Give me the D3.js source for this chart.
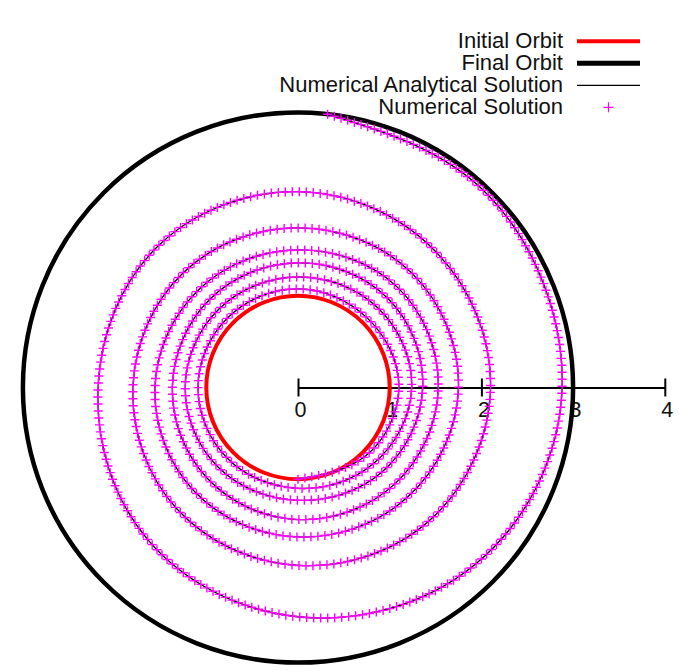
<!DOCTYPE html>
<html>
<head>
<meta charset="utf-8">
<script src="https://cdnjs.cloudflare.com/ajax/libs/d3/7.8.5/d3.min.js"></script>
<style>
body { margin: 0; background: #fff; }
text { font-family: "Liberation Sans", Arial, sans-serif; fill: #111; }
</style>
</head>
<body>
<script>
//Orbit radii (canonical units)
var initialOrbit = 1;
var finalOrbit = 3;

//Spiral: polar angle in degrees (ccw from +x) and radius
var spiralAngles = [-90, -45, 0, 45, 90, 135, 180, 225, 270, 315,
  360, 405, 450, 495, 540, 585, 630, 675,
  720, 765, 810, 855, 900, 945, 990, 1035,
  1080, 1125, 1170, 1215, 1260, 1305, 1350, 1395,
  1440, 1485, 1530, 1575, 1620, 1665, 1710, 1755,
  1800, 1845, 1890, 1935, 1980, 2025, 2070, 2115,
  2160, 2205, 2244];
var spiralRadii = [1.00, 1.05, 1.10, 1.07, 1.075, 1.08, 1.09, 1.09, 1.10, 1.17,
  1.24, 1.23, 1.205, 1.215, 1.23, 1.23, 1.23, 1.30,
  1.36, 1.38, 1.36, 1.36, 1.37, 1.40, 1.44, 1.49,
  1.53, 1.54, 1.50, 1.52, 1.56, 1.60, 1.63, 1.69,
  1.75, 1.76, 1.74, 1.77, 1.80, 1.87, 1.94, 2.04,
  2.10, 2.11, 2.135, 2.17, 2.18, 2.33, 2.50, 2.73,
  2.88, 2.95, 3.00];

//Radial axis ticks
var tickValues = [0, 1, 2, 3, 4];

//Legend entries
var legendLabels = ["Initial Orbit", "Final Orbit", "Numerical Analytical Solution", "Numerical Solution"];

var width = 679, height = 671;
var cx = 298, cy = 387.5;

var svg = d3.select("body").append("svg")
  .attr("width", width)
  .attr("height", height);

svg.append("rect")
  .attr("width", width)
  .attr("height", height)
  .attr("fill", "#fff");

var rScale = d3.scaleLinear().domain([0, 4]).range([0, 366.8]);

var spiral = spiralAngles.map(function (a, i) {
  return { angle: a * Math.PI / 180, r: spiralRadii[i] };
});

var plot = svg.append("g").attr("transform", "translate(" + cx + "," + cy + ")");

//Radial axis with crossing ticks
var axis = d3.axisBottom(rScale)
  .tickValues(tickValues)
  .tickFormat(d3.format("d"))
  .tickSize(9)
  .tickSizeOuter(0)
  .tickPadding(5);

var axisG = plot.append("g").call(axis);
axisG.select(".domain").attr("stroke", "#000").attr("stroke-width", 2);
axisG.selectAll(".tick line").attr("y1", -9).attr("stroke", "#000").attr("stroke-width", 2);
axisG.selectAll(".tick text")
  .attr("x", 2)
  .attr("font-size", "21.5px")
  .attr("font-family", "Liberation Sans, Arial, sans-serif")
  .attr("fill", "#111");

//Initial and final orbits
plot.append("circle")
  .attr("r", rScale(initialOrbit))
  .attr("fill", "none")
  .attr("stroke", "#ff0000")
  .attr("stroke-width", 4);

plot.append("circle")
  .attr("r", rScale(finalOrbit))
  .attr("fill", "none")
  .attr("stroke", "#000")
  .attr("stroke-width", 4.5);

//Analytical spiral
var radial = d3.lineRadial()
  .angle(function (d) { return Math.PI / 2 - d.angle; })
  .radius(function (d) { return rScale(d.r); })
  .curve(d3.curveNatural);

var spiralPath = plot.append("path")
  .attr("d", radial(spiral))
  .attr("fill", "none")
  .attr("stroke", "#000")
  .attr("stroke-width", 1.3);

//Numerical solution markers along the same trajectory
var node = spiralPath.node();
var total = node.getTotalLength();
var plus = "";
for (var s = 0; s <= total; s += 7) {
  var p = node.getPointAtLength(s);
  plus += "M" + (p.x - 4.5) + "," + p.y + "h9M" + p.x + "," + (p.y - 4.5) + "v9";
}
plot.append("path")
  .attr("d", plus)
  .attr("fill", "none")
  .attr("stroke", "#ff00ff")
  .attr("stroke-width", 1.4);

//Legend
var legend = svg.append("g");
var rows = legend.selectAll("g")
  .data(legendLabels)
  .enter()
  .append("g")
  .attr("transform", function (d, i) { return "translate(0," + (48.3 + i * 22) + ")"; });

rows.append("text")
  .attr("x", 563)
  .attr("text-anchor", "end")
  .attr("font-size", "22px")
  .text(function (d) { return d; });

rows.each(function (d, i) {
  var g = d3.select(this);
  if (i < 3) {
    g.append("line")
      .attr("x1", 577).attr("x2", 640)
      .attr("y1", -7).attr("y2", -7)
      .attr("stroke", i === 0 ? "#ff0000" : "#000")
      .attr("stroke-width", i === 0 ? 4 : (i === 1 ? 5 : 1.2));
  } else {
    g.append("path")
      .attr("d", "M603.5,-7h10M608.5,-12v10")
      .attr("stroke", "#ff00ff")
      .attr("stroke-width", 1.2)
      .attr("fill", "none");
  }
});
</script>
</body>
</html>
